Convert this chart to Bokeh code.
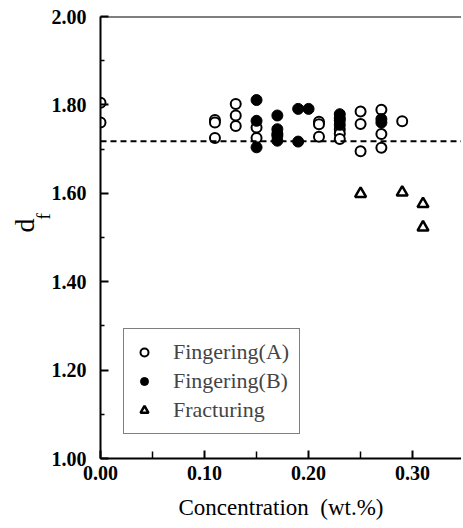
from bokeh.plotting import figure
from bokeh.models import (Range1d, FixedTicker, PrintfTickFormatter, Span, Title,
                          Legend, LegendItem)
from bokeh.embed import file_html
from bokeh.resources import INLINE

# ---- data ----
fa_x = [0.00, 0.00, 0.11, 0.11, 0.11, 0.13, 0.13, 0.13, 0.15, 0.15, 0.17,
        0.21, 0.21, 0.21, 0.23, 0.23, 0.23, 0.23, 0.25, 0.25, 0.25,
        0.27, 0.27, 0.27, 0.29]
fa_y = [1.805, 1.760, 1.766, 1.760, 1.725, 1.802, 1.776, 1.752, 1.749, 1.725, 1.735,
        1.762, 1.756, 1.728, 1.765, 1.745, 1.735, 1.723, 1.785, 1.757, 1.695,
        1.789, 1.734, 1.703, 1.763]
fb_x = [0.15, 0.15, 0.15, 0.17, 0.17, 0.17, 0.17, 0.19, 0.19, 0.20,
        0.23, 0.23, 0.23, 0.27, 0.27]
fb_y = [1.811, 1.764, 1.704, 1.776, 1.745, 1.730, 1.719, 1.791, 1.717, 1.791,
        1.779, 1.770, 1.755, 1.768, 1.760]
fr_x = [0.25, 0.29, 0.31, 0.31]
fr_y = [1.599, 1.602, 1.576, 1.523]
mean_df = 1.718
x_ticks = [0.0, 0.1, 0.2, 0.3]
y_ticks = [1.0, 1.2, 1.4, 1.6, 1.8, 2.0]

FONT = "Liberation Serif"

p = figure(width=461, height=526, output_backend="svg", toolbar_location=None,
           x_range=Range1d(0.0, 0.347), y_range=Range1d(1.0, 2.0),
           min_border_left=100, min_border_top=16, min_border_bottom=68, min_border_right=0)
p.outline_line_color = None
p.xgrid.visible = False
p.ygrid.visible = False

for ax in (p.xaxis[0], p.yaxis[0]):
    ax.axis_line_width = 2
    ax.axis_line_color = "black"
    ax.major_tick_in = 8
    ax.major_tick_out = 0
    ax.major_tick_line_width = 2
    ax.minor_tick_line_width = 1.5
    ax.major_label_text_font = FONT
    ax.major_label_text_font_size = "20px"
    ax.major_label_text_font_style = "bold"
    ax.major_label_text_color = "black"
    ax.axis_label_text_color = "black"
    ax.formatter = PrintfTickFormatter(format="%.2f")

p.xaxis[0].ticker = FixedTicker(ticks=x_ticks, minor_ticks=[0.05, 0.15, 0.25, 0.35])
p.xaxis[0].minor_tick_in = 7
p.xaxis[0].minor_tick_out = 0
p.xaxis[0].major_label_standoff = 7
p.xaxis[0].axis_label = "Concentration\u2002(wt.%)"
p.xaxis[0].axis_label_text_font = FONT
p.xaxis[0].axis_label_text_font_size = "23px"
p.xaxis[0].axis_label_text_font_style = "normal"
p.xaxis[0].axis_label_standoff = 12

p.yaxis[0].ticker = FixedTicker(ticks=y_ticks, minor_ticks=[1.1, 1.3, 1.5, 1.7, 1.9])
p.yaxis[0].minor_tick_in = 4
p.yaxis[0].minor_tick_out = 0
p.yaxis[0].major_label_standoff = 14

# y axis label d_f as two titles in the left panel (subscript next to the axis)
p.add_layout(Title(text="f", text_font=FONT, text_font_size="19px", text_font_style="normal",
                   text_color="black", align="left", offset=239, standoff=-10), "left")
p.add_layout(Title(text="d", text_font=FONT, text_font_size="28px", text_font_style="normal",
                   text_color="black", align="left", offset=226, standoff=-8), "left")

# top frame line
p.add_layout(Span(location=2.0, dimension="width", line_color="black", line_width=2))
# dashed reference line
p.add_layout(Span(location=mean_df, dimension="width", line_color="black",
                  line_width=2, line_dash="6 4"))

ra = p.scatter(fa_x, fa_y, marker="circle", size=10, fill_color="white",
               line_color="black", line_width=2)
rb = p.scatter(fb_x, fb_y, marker="circle", size=11, fill_color="black",
               line_color="black", line_width=1)
rc = p.scatter(fr_x, fr_y, marker="triangle", size=11, fill_color="white",
               line_color="black", line_width=2.5)

legend = Legend(items=[LegendItem(label="Fingering(A)", renderers=[ra]),
                       LegendItem(label="Fingering(B)", renderers=[rb]),
                       LegendItem(label="Fracturing", renderers=[rc])],
                location=(23, 24), label_text_font=FONT, label_text_font_size="22px",
                glyph_width=20, glyph_height=20, label_height=24, spacing=3,
                padding=10, margin=0, label_standoff=19,
                border_line_color="black", border_line_width=1.5,
                background_fill_alpha=1.0)
p.add_layout(legend)

open("out.html", "w").write(file_html(p, INLINE))
